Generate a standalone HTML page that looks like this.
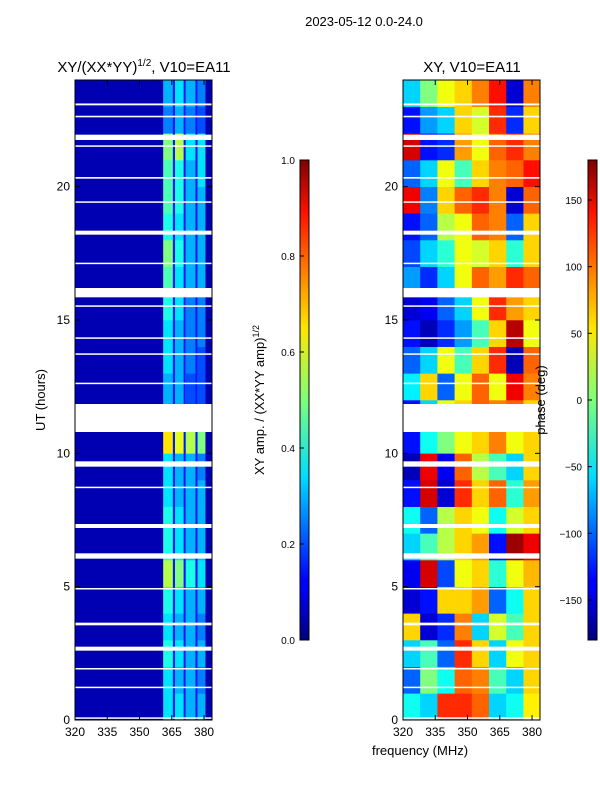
<!DOCTYPE html>
<html><head><meta charset="utf-8">
<style>
body{margin:0;background:#fff;width:600px;height:800px;overflow:hidden;font-family:"Liberation Sans",sans-serif;}
svg text{font-family:"Liberation Sans",sans-serif;fill:#000;}
</style></head>
<body>
<svg id="chart" width="600" height="800">
  <defs>
    <linearGradient id="jetv" x1="0" y1="1" x2="0" y2="0">
      <stop offset="0" stop-color="#00007f"/><stop offset="0.11" stop-color="#0000ff"/>
      <stop offset="0.125" stop-color="#0000ff"/><stop offset="0.34" stop-color="#00dcff"/>
      <stop offset="0.5" stop-color="#7dff7a"/><stop offset="0.65" stop-color="#ffe600"/>
      <stop offset="0.89" stop-color="#ff1200"/><stop offset="1" stop-color="#7f0000"/>
    </linearGradient>
  </defs>
  <text x="364" y="26" font-size="13" text-anchor="middle">2023-05-12 0.0-24.0</text>
  <text x="144" y="72" font-size="15" text-anchor="middle">XY/(XX*YY)<tspan font-size="10" dy="-6">1/2</tspan><tspan dy="6">, V10=EA11</tspan></text>
  <text x="472" y="72" font-size="15" text-anchor="middle">XY, V10=EA11</text>
  <g id="leftHeat"></g>
  <g id="rightHeat"></g>
  <g id="axes"></g>
  <text transform="translate(45,400) rotate(-90)" font-size="13" text-anchor="middle">UT (hours)</text>
  <text x="420" y="755" font-size="13" text-anchor="middle">frequency (MHz)</text>
  <rect x="300" y="160" width="9" height="480" fill="url(#jetv)" stroke="#000" stroke-width="1"/>
  <rect x="588" y="160" width="9" height="480" fill="url(#jetv)" stroke="#000" stroke-width="1"/>
  <text transform="translate(264,400) rotate(-90)" font-size="13" text-anchor="middle">XY amp. / (XX*YY amp)<tspan font-size="9" dy="-5">1/2</tspan></text>
  <text transform="translate(545,400) rotate(-90)" font-size="13" text-anchor="middle">phase (deg)</text>
  <g id="cbticks"></g>
</svg>
<script>
const hours = [0,1,2,3,4,5,6,7,8,9,10,11,12,13,14,15,16,17,18,19,20,21,22,23];
const ampEdges = [320,361,365.5,366.5,370.5,371.5,376,377,380.5,383.7];
// amplitude per hour for: background, band1, band2, band3, band4
const ampValues = [
 [0.05,0.35,0.35,0.3,0.3],[0.05,0.35,0.3,0.3,0.25],[0.05,0.4,0.35,0.3,0.3],[0.05,0.35,0.3,0.3,0.25],
 [0.05,0.4,0.35,0.3,0.3],[0.05,0.55,0.5,0.4,0.35],[0.05,0.4,0.35,0.3,0.3],[0.05,0.4,0.35,0.3,0.3],
 [0.05,0.35,0.3,0.3,0.3],[0.05,0.35,0.3,0.3,0.25],[0.05,0.65,0.6,0.55,0.5],[0.05,0.3,0.3,0.2,0.2],
 [0.05,0.3,0.3,0.2,0.2],[0.05,0.35,0.3,0.25,0.2],[0.05,0.35,0.3,0.25,0.25],[0.05,0.4,0.35,0.25,0.25],
 [0.05,0.45,0.35,0.3,0.3],[0.05,0.5,0.4,0.3,0.3],[0.05,0.4,0.35,0.3,0.3],[0.05,0.45,0.4,0.3,0.3],
 [0.05,0.45,0.4,0.3,0.35],[0.05,0.5,0.55,0.35,0.35],[0.05,0.25,0.3,0.25,0.2],[0.05,0.3,0.35,0.3,0.25]
];
const phaseEdges = [320,328,336,344,352,360,368,376,383.7];
const phaseValues = [
 [-40,-60,120,120,100,-60,-40,50],[-100,0,-40,100,90,-20,-60,60],[-60,-20,-100,120,60,-60,40,60],
 [60,-150,-120,90,-60,30,-20,60],[-150,-130,60,60,80,-100,-40,60],[-140,150,-110,40,60,-30,40,70],
 [-60,-20,20,60,80,-130,170,140],[-40,-100,20,60,40,-40,30,60],[-130,150,-150,120,60,100,-30,80],
 [-160,140,-140,100,20,-20,-60,60],[-130,-40,0,40,60,90,40,60],[-130,-60,40,60,100,90,100,60],
 [-50,60,-100,40,100,40,140,90],[-100,-60,40,-20,60,120,-160,100],[-130,-160,-120,-80,-20,60,160,40],
 [-150,-140,-100,-60,40,120,80,60],[-80,-120,-60,40,100,80,120,100],[-110,-60,-30,40,30,60,-30,60],
 [-130,-100,20,40,100,90,-100,60],[140,-90,60,100,120,90,-150,100],[-100,-60,40,-20,60,90,100,130],
 [150,-130,-120,80,40,100,120,90],[-130,-80,-60,60,30,120,-120,60],[-60,0,40,60,90,130,-150,90]
];
const gapStart = [10.8,15.85,21.75,23.05,20.3,18.2,12.6,9.5,7.2,6.05,3.55,2.6,1.9,1.2,0.05,4.9,8.7,14.3,22.6,21.5,19.4,17.1,15.5,13.7];
const gapEnd   = [11.85,16.2,21.95,23.12,20.36,18.35,12.65,9.7,7.35,6.25,3.65,2.75,1.95,1.25,0.1,4.95,8.75,14.35,22.66,21.55,19.45,17.15,15.55,13.75];
const xTicks = [320,335,350,365,380];
const yTicks = [0,5,10,15,20];
const ampTicks = [0.0,0.2,0.4,0.6,0.8,1.0];
const phaseTicks = [-150,-100,-50,0,50,100,150];

const NS='http://www.w3.org/2000/svg';
const PT=80,PB=720,FMIN=320,FMAX=383.7,LX0=75,LX1=212,RX0=403,RX1=540;
const yS=h=>PB-(h/24)*(PB-PT);
const xL=f=>LX0+(f-FMIN)/(FMAX-FMIN)*(LX1-LX0);
const xR=f=>RX0+(f-FMIN)/(FMAX-FMIN)*(RX1-RX0);
function jet(v){v=Math.max(0,Math.min(1,v));const c=t=>Math.round(255*Math.max(0,Math.min(1,1.5-Math.abs(4*v-t))));return `rgb(${c(3)},${c(2)},${c(1)})`;}
function mk(tag,at,parent){const e=document.createElementNS(NS,tag);for(const k in at)e.setAttribute(k,at[k]);parent.appendChild(e);return e;}
const L=document.getElementById('leftHeat'),R=document.getElementById('rightHeat'),A=document.getElementById('axes');
hours.forEach((h,i)=>{
  const y0=yS(h+1),y1=yS(h);
  ampValues[i].forEach((v,j)=>{
    const segs=j===0?[[0,1],[8,9]]:[[2*j-1,2*j]];
    segs.forEach(s=>{
      const r=mk('rect',{x:xL(ampEdges[s[0]]),y:y0,width:xL(ampEdges[s[1]])-xL(ampEdges[s[0]])+0.3,height:y1-y0+0.3,fill:jet(v)},L);
      
      
    });
  });
  [2,4,6].forEach(k=>{
    const r=mk('rect',{x:xL(ampEdges[k]),y:y0,width:xL(ampEdges[k+1])-xL(ampEdges[k]),height:y1-y0+0.3,fill:jet(0.15)},L);
    
    
  });
  phaseValues[i].forEach((v,j)=>{
    const r=mk('rect',{x:xR(phaseEdges[j]),y:y0,width:xR(phaseEdges[j+1])-xR(phaseEdges[j])+0.3,height:y1-y0+0.3,fill:jet((v+180)/360)},R);
    
    
  });
});
gapStart.forEach((g,i)=>{
  [[LX0,LX1],[RX0,RX1]].forEach(p=>{
    const r=mk('rect',{x:p[0],y:yS(gapEnd[i]),width:p[1]-p[0],height:Math.max(1.5,yS(g)-yS(gapEnd[i])),fill:'#fff'},A);
    
    
  });
});
[[LX0,LX1,xL],[RX0,RX1,xR]].forEach((p,pi)=>{
  const fr=mk('rect',{x:p[0],y:PT,width:p[1]-p[0],height:PB-PT,fill:'none',stroke:'#000','stroke-width':1},A);
  
  
  xTicks.forEach(t=>{
    const x=p[2](t);
    mk('line',{x1:x,x2:x,y1:PB,y2:PB-5,stroke:'#000'},A);
    mk('line',{x1:x,x2:x,y1:PT,y2:PT+5,stroke:'#000'},A);
    const tx=mk('text',{x:x,y:PB+16,'font-size':12,'text-anchor':'middle'},A);tx.textContent=t;
    
    
  });
  yTicks.forEach(t=>{
    const y=yS(t);
    mk('line',{x1:p[0],x2:p[0]+5,y1:y,y2:y,stroke:'#000'},A);
    mk('line',{x1:p[1],x2:p[1]-5,y1:y,y2:y,stroke:'#000'},A);
    const tx=mk('text',{x:p[0]-5,y:y+4,'font-size':12,'text-anchor':'end'},A);tx.textContent=t;
    
    
  });
});
const C=document.getElementById('cbticks');
ampTicks.forEach(t=>{
  const y=640-t*480;
  mk('line',{x1:300,x2:304,y1:y,y2:y,stroke:'#000'},C);
  const tx=mk('text',{x:295,y:y+4,'font-size':10,'text-anchor':'end'},C);tx.textContent=t.toFixed(1);
  
  
});
phaseTicks.forEach(t=>{
  const y=640-(t+180)/360*480;
  mk('line',{x1:588,x2:592,y1:y,y2:y,stroke:'#000'},C);
  const tx=mk('text',{x:582,y:y+4,'font-size':10,'text-anchor':'end'},C);tx.textContent=t<0?'\u2212'+(-t):t;
  
  
});
</script>
</body></html>
